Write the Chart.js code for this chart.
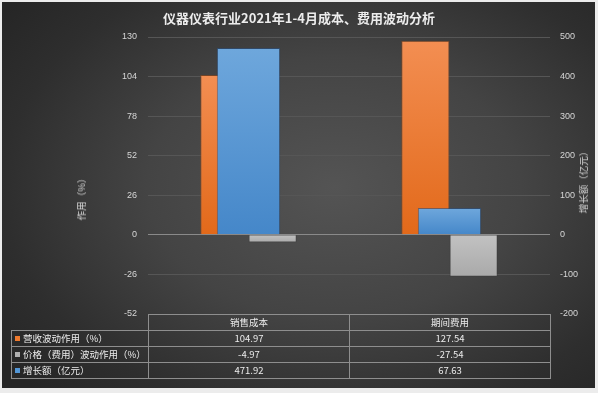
<!DOCTYPE html>
<html>
<head>
<meta charset="utf-8">
<script src="https://cdn.jsdelivr.net/npm/chart.js@4.4.1/dist/chart.umd.min.js"></script>
<style>
  html, body { margin: 0; padding: 0; background: #ececec; overflow: hidden; }
  #wrap { position: relative; width: 598px; height: 393px; font-family: "Noto Sans CJK SC", "Noto Sans", sans-serif; }
  #bg {
    position: absolute; left: 2px; top: 2px; width: 593px; height: 386px;
    background: radial-gradient(ellipse 70% 75% at 56% 48%, #545454 0%, #444 45%, #2e2e2e 80%, #262626 100%);
  }
  #myChart { position: absolute; left: 0; top: 0; }
  .title { position: absolute; left: 0; width: 598px; top: 8px; text-align: center; color: #ececec; font-size: 13px; font-weight: bold; }
  .axis-title { position: absolute; color: #d4d4d4; font-size: 9.5px; white-space: nowrap; transform: translate(-50%, -50%) rotate(-90deg); }
  table { position: absolute; border-collapse: collapse; color: #ececec; font-size: 9.5px; table-layout: fixed; }
  td { border: 1px solid #8e8e8e; height: 15px; padding: 0; text-align: center; line-height: 15px; }
  td.key { text-align: left; padding-left: 3px; white-space: nowrap; }
  td.blank { border-top: none; border-left: none; }
  .sw { display: inline-block; width: 5px; height: 5px; margin-right: 3px; vertical-align: 1px; }
</style>
</head>
<body>
<div id="wrap">
  <div id="bg"></div>
  <canvas id="myChart" width="598" height="393"></canvas>
  <div class="title">仪器仪表行业2021年1-4月成本、费用波动分析</div>
  <div class="axis-title" style="left:81px; top:197px;">作用（%）</div>
  <div class="axis-title" style="left:583px; top:180px;">增长额（亿元）</div>
  <table id="dataTable"></table>
</div>
<script>
const categories = ['销售成本', '期间费用'];
const revenueEffect = [104.97, 127.54];
const priceEffect = [-4.97, -27.54];
const growthAmount = [471.92, 67.63];
const seriesNames = ['营收波动作用（%）', '价格（费用）波动作用（%）', '增长额（亿元）'];
const seriesColors = ['#ee7a2e', '#b0b0b0', '#5296d6'];

// per-bar vertical gradient from the zero line to the bar end
function barGradient(topColor, bottomColor) {
    return (context) => {
        const chart = context.chart;
        if (!chart.chartArea || context.type !== 'data') return bottomColor;
        const scale = chart.scales[context.dataset.yAxisID];
        const y0 = scale.getPixelForValue(0);
        const y1 = scale.getPixelForValue(context.raw);
        const g = chart.ctx.createLinearGradient(0, Math.min(y0, y1), 0, Math.max(y0, y1));
        g.addColorStop(0, topColor);
        g.addColorStop(1, bottomColor);
        return g;
    };
}

const chartElement = document.getElementById('myChart');
const chart = new Chart(chartElement, {
    type: 'bar',
    data: {
        labels: categories,
        datasets: [{
            label: seriesNames[0],
            data: revenueEffect,
            yAxisID: 'y',
            backgroundColor: barGradient('#f38e52', '#e2691a'),
            borderColor: 'rgba(150, 70, 20, 0.6)',
            borderWidth: 1,
            categoryPercentage: 0.48,
            barPercentage: 1,
            order: 2
        }, {
            label: seriesNames[1],
            data: priceEffect,
            yAxisID: 'y',
            backgroundColor: barGradient('#c2c2c2', '#a9a9a9'),
            borderColor: 'rgba(60, 60, 60, 0.6)',
            borderWidth: 1,
            categoryPercentage: 0.48,
            barPercentage: 1,
            order: 2
        }, {
            // secondary axis series, drawn centred over the pair
            label: seriesNames[2],
            data: growthAmount,
            yAxisID: 'y1',
            grouped: false,
            backgroundColor: barGradient('#6ea7dc', '#4587c9'),
            borderColor: 'rgba(40, 80, 130, 0.6)',
            borderWidth: 1,
            categoryPercentage: 0.315,
            barPercentage: 1,
            order: 1
        }]
    },
    options: {
        responsive: false,
        animation: false,
        layout: { padding: { top: 37, bottom: 79, left: 0, right: 0 } },
        plugins: {
            legend: { display: false },
            tooltip: { enabled: false },
            title: { display: false }
        },
        scales: {
            x: { type: 'category', display: false, offset: true },
            y: {
                position: 'left',
                min: -52,
                max: 130,
                afterFit: (scale) => { scale.width = 148; },
                ticks: { stepSize: 26, color: '#d6d6d6', font: { size: 9, family: 'Liberation Sans' }, padding: 11 },
                grid: {
                    drawTicks: false,
                    color: (ctx) => ctx.tick && ctx.tick.value === 0 ? '#8a8a8a' : (ctx.tick && ctx.tick.value === -52 ? '#8e8e8e' : '#565656'),
                    lineWidth: 1
                },
                border: { display: false }
            },
            y1: {
                position: 'right',
                min: -200,
                max: 500,
                afterFit: (scale) => { scale.width = 48; },
                ticks: { stepSize: 100, color: '#d6d6d6', font: { size: 9, family: 'Liberation Sans' }, padding: 10 },
                grid: { drawOnChartArea: false, drawTicks: false },
                border: { display: false }
            }
        }
    }
});

// data table under the plot, columns aligned with the categories
const area = chart.chartArea;
const table = document.getElementById('dataTable');
const keyLeft = 11;
const colW = (area.right - area.left) / categories.length;
table.style.left = keyLeft + 'px';
table.style.top = Math.round(area.bottom) + 'px';
let html = '<colgroup><col style="width:' + (area.left - keyLeft) + 'px">';
categories.forEach(() => { html += '<col style="width:' + colW + 'px">'; });
html += '</colgroup><tr><td class="blank"></td>';
categories.forEach(c => { html += '<td>' + c + '</td>'; });
html += '</tr>';
[revenueEffect, priceEffect, growthAmount].forEach((vals, i) => {
    html += '<tr><td class="key"><span class="sw" style="background:' + seriesColors[i] + '"></span>' + seriesNames[i] + '</td>';
    vals.forEach(v => { html += '<td>' + v.toFixed(2) + '</td>'; });
    html += '</tr>';
});
table.innerHTML = html;
</script>
</body>
</html>
